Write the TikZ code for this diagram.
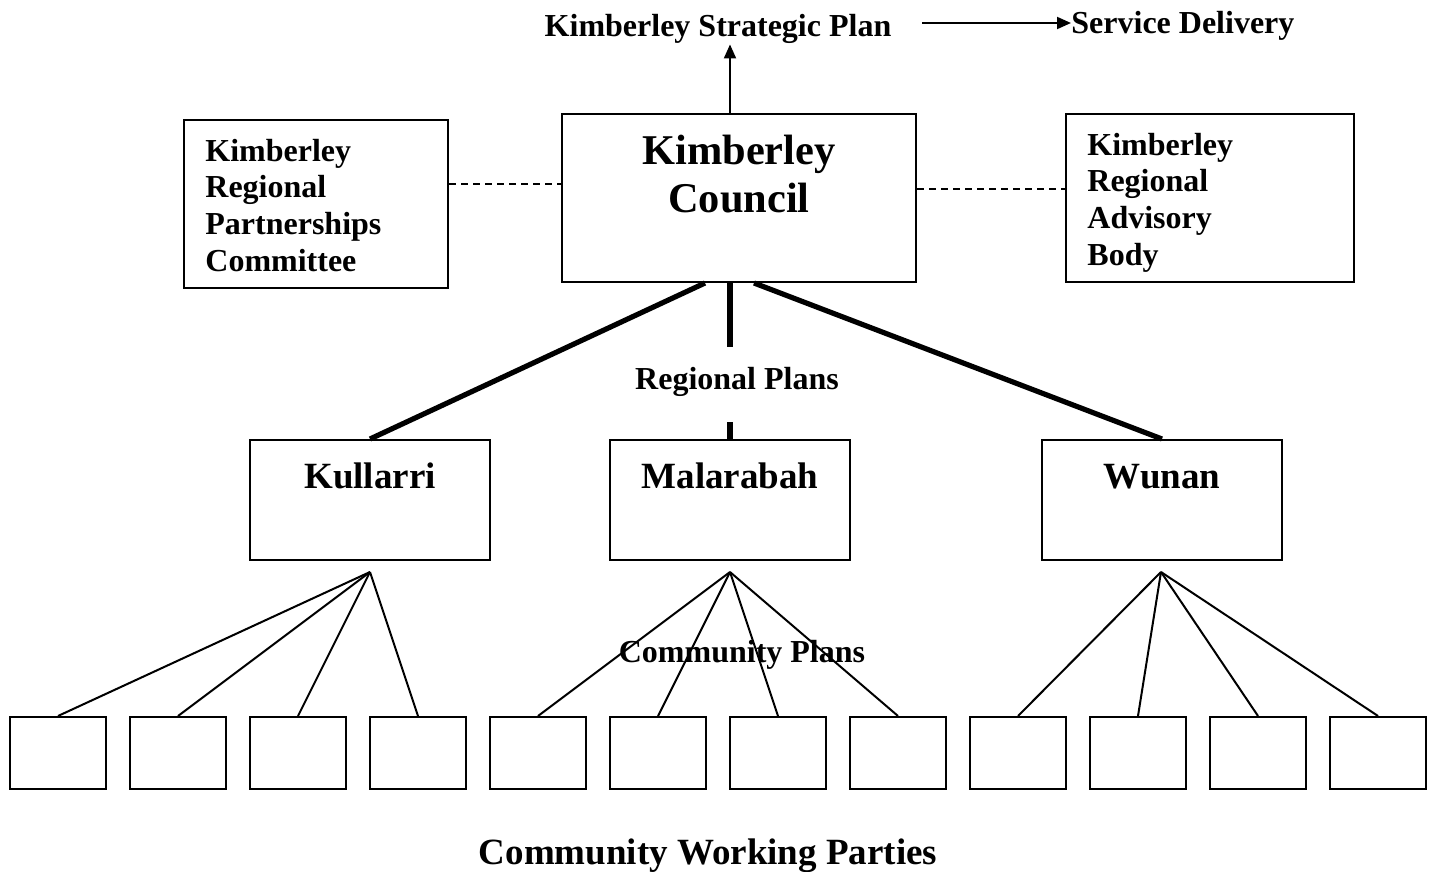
\documentclass[tikz,border=0pt]{standalone}
\usepackage{fontspec}
\setmainfont{Liberation Serif}
\usetikzlibrary{arrows.meta}
\begin{document}
\begin{tikzpicture}[x=0.5pt,y=-0.5pt,
  box/.style={draw, line width=1pt, inner sep=0pt},
  bigbox/.style={box, minimum height=84pt},
  midbox/.style={box, minimum width=120pt, minimum height=60pt},
  cwp/.style={box, minimum width=48pt, minimum height=36pt},
  txt/.style={inner sep=0pt, font=\bfseries\fontsize{16}{18.3}\selectfont},
  midtxt/.style={inner sep=0pt, font=\bfseries\fontsize{18.5}{22}\selectfont},
  bigtxt/.style={inner sep=0pt, font=\bfseries\fontsize{21.2}{24}\selectfont},
  thin/.style={line width=1pt},
  thick line/.style={line width=2.6pt},
  dsh/.style={line width=0.8pt, dash pattern=on 3.5pt off 2.5pt},
  arr/.style={line width=1pt, -{Triangle[length=7pt,width=6pt]}}
]
\useasboundingbox (0,0) rectangle (1436,872);

% top labels
\node[txt, anchor=base] (ksp) at (718,37) {Kimberley Strategic Plan};
\node[txt, anchor=base west] (sd) at (1071,34) {Service Delivery};
\coordinate (a0) at (922,23);
\draw[arr] (a0) -- (a0 -| sd.west);

% upper boxes
\node[bigbox, minimum width=177pt] (kc) at (739,198) {};
\node[bigbox, minimum width=132pt] (kr) at (316,204) {};
\node[bigbox, minimum width=144pt] (ka) at (1210,198) {};
% multi-line texts: base anchor = baseline of last line
\node[bigtxt, align=center, anchor=base] (kct) at (739,213) {Kimberley\\Council};
\node[txt, align=left, anchor=base west] (krt) at (205,271) {Kimberley\\Regional\\Partnerships\\Committee};
\node[txt, align=left, anchor=base west] (kat) at (1087,265) {Kimberley\\Regional\\Advisory\\Body};

% arrow up
\coordinate (kcup) at ([xshift=-4.5pt]kc.north);
\draw[arr] (kcup) -- (kcup |- ksp.south);

% dashed links
\coordinate (dl) at ([yshift=7pt]kc.west);
\coordinate (dr) at ([yshift=4.5pt]kc.east);
\draw[dsh] (kr.east |- dl) -- (dl);
\draw[dsh] (dr) -- (ka.west |- dr);

% middle boxes
\node[midbox] (ku) at (370,500) {};
\node[midbox] (ma) at (730,500) {};
\node[midbox] (wu) at (1162,500) {};
\node[midtxt, anchor=base] (kut) at (370,488) {Kullarri};
\node[midtxt, anchor=base] (mat) at (730,488) {Malarabah};
\node[midtxt, anchor=base] (wut) at (1162,488) {Wunan};

% thick connectors
\draw[thick line] ([xshift=-17pt]kc.south) -- (ku.north);
\draw[thick line] ([xshift=7.5pt]kc.south) -- (wu.north);
\coordinate (rpt) at (730,347);
\coordinate (rpb) at (730,422);
\draw[thick line] (kc.south -| rpt) -- (rpt);
\draw[thick line] (rpb) -- (ma.north);
\node[txt, anchor=base] (rp) at (737,389) {Regional Plans};

% bottom boxes
\foreach \i in {1,...,12} {
  \node[cwp] (b\i) at ({58+120*(\i-1)},753) {};
}
\coordinate (ap1) at (370,572);
\coordinate (ap2) at (730,572);
\coordinate (ap3) at (1161,572);
\foreach \i in {1,...,4} {\draw[thin] (ap1) -- (b\i.north);}
\foreach \i in {5,...,8} {\draw[thin] (ap2) -- (b\i.north);}
\foreach \i in {9,...,12} {\draw[thin] (ap3) -- (b\i.north);}

\node[txt, anchor=base] (cp) at (742,662) {Community Plans};
\node[midtxt, anchor=base] (cw) at (708,864) {Community Working Parties};
\end{tikzpicture}
\end{document}
